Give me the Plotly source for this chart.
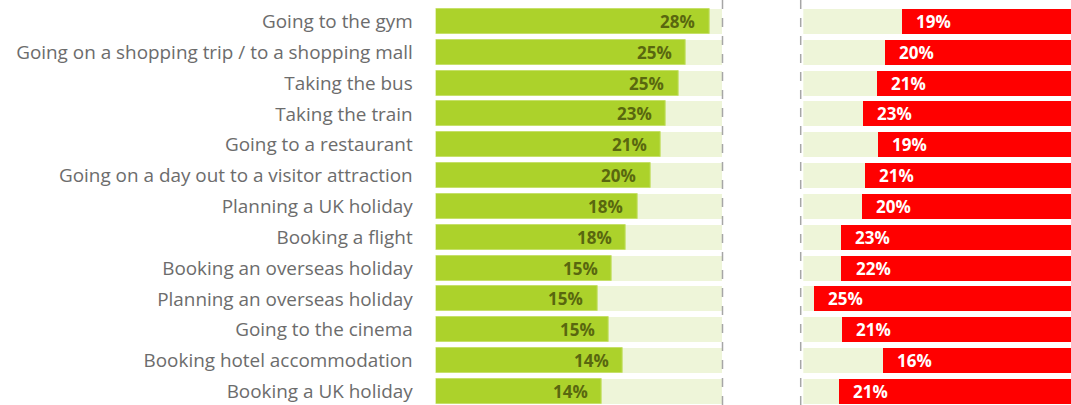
import plotly.graph_objects as go

categories = [
    "Going to the gym",
    "Going on a shopping trip / to a shopping mall",
    "Taking the bus",
    "Taking the train",
    "Going to a restaurant",
    "Going on a day out to a visitor attraction",
    "Planning a UK holiday",
    "Booking a flight",
    "Booking an overseas holiday",
    "Planning an overseas holiday",
    "Going to the cinema",
    "Booking hotel accommodation",
    "Booking a UK holiday",
]
# bar lengths as drawn (panel scale 0-30)
green_values = [28.67, 26.20, 25.42, 24.10, 23.61, 22.49, 21.12, 19.91, 18.47, 16.93, 18.13, 19.59, 17.39]
green_labels = ["28%", "25%", "25%", "23%", "21%", "20%", "18%", "18%", "15%", "15%", "15%", "14%", "14%"]
# red bars grow leftwards from right edge (panel scale 0-28)
red_values = [17.68, 19.46, 20.30, 21.72, 20.19, 21.55, 21.83, 24.07, 24.00, 26.90, 23.97, 19.63, 24.24]
red_labels = ["19%", "20%", "21%", "23%", "19%", "21%", "20%", "23%", "22%", "25%", "21%", "16%", "21%"]
green_max = 30
red_max = 28

ypos = list(range(len(categories)))
W, H = 1071, 405
FONT = "Open Sans"

fig = go.Figure()
bw = 0.81
fig.add_trace(go.Bar(x=[green_max] * len(ypos), y=ypos, orientation="h", width=bw,
                     marker=dict(color="#eef5d9", line=dict(width=0)), xaxis="x", yaxis="y",
                     hoverinfo="skip", showlegend=False))
fig.add_trace(go.Bar(x=green_values, y=ypos, orientation="h", width=bw,
                     marker=dict(color="#acd22b", line=dict(color="#c6e06a", width=1)),
                     xaxis="x", yaxis="y", showlegend=False))
fig.add_trace(go.Bar(x=[red_max] * len(ypos), y=ypos, orientation="h", width=bw,
                     marker=dict(color="#eef5d9", line=dict(width=0)), xaxis="x2", yaxis="y",
                     hoverinfo="skip", showlegend=False))
fig.add_trace(go.Bar(x=red_values, y=ypos, orientation="h", width=bw,
                     marker=dict(color="#ff0000", line=dict(width=0)),
                     xaxis="x2", yaxis="y", showlegend=False))

for i in ypos:
    fig.add_annotation(x=green_values[i], y=i, xref="x", yref="y", text=green_labels[i],
                       showarrow=False, xanchor="right", xshift=-12,
                       font=dict(family=FONT, size=17, color="#59670f", weight="bold"))
    fig.add_annotation(x=red_values[i], y=i, xref="x2", yref="y", text=red_labels[i],
                       showarrow=False, xanchor="left", xshift=12,
                       font=dict(family=FONT, size=17, color="#ffffff", weight="bold"))

for xp in [722.5 / W, 800.7 / W]:
    fig.add_shape(type="line", xref="paper", yref="paper", x0=xp, x1=xp, y0=0, y1=1,
                  line=dict(color="#a6a6a6", width=1.5, dash="dash"))

fig.update_layout(
    width=W, height=H,
    margin=dict(l=0, r=0, t=0, b=0),
    paper_bgcolor="white", plot_bgcolor="rgba(0,0,0,0)",
    barmode="overlay", bargap=0,
    xaxis=dict(domain=[435.7 / W, 722 / W], range=[0, green_max], visible=False, fixedrange=True),
    xaxis2=dict(domain=[803.3 / W, 1.0], range=[red_max, 0], visible=False, fixedrange=True),
    yaxis=dict(range=[12.44, -0.697], tickvals=ypos, ticktext=categories,
               showgrid=False, zeroline=False, showline=False, ticks="",
               ticklabelstandoff=22, fixedrange=True,
               tickfont=dict(family=FONT, size=18.9, color="#6c6c6c")),
    font=dict(family=FONT),
)

fig.write_html("out.html", config={"displayModeBar": False},
               post_script="document.body.style.margin='0';document.body.style.overflow='hidden';")
